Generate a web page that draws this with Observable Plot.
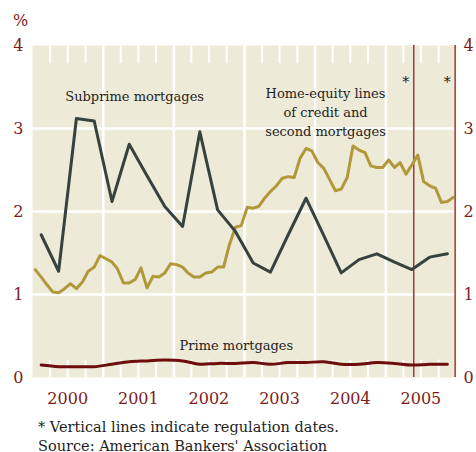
<!DOCTYPE html>
<html>
<head>
<meta charset="utf-8">
<script src="https://cdn.jsdelivr.net/npm/d3@7"></script>
<script src="https://cdn.jsdelivr.net/npm/@observablehq/plot@0.6"></script>
<style>
  html, body { margin: 0; padding: 0; background: #fff; }
  #chart svg { display: block; }
  .cap { font-family: "DejaVu Serif", serif; font-size: 14.5px; line-height: 19px; color: #1e1e1e; padding-left: 38px; padding-top: 6px; white-space: nowrap; }
</style>
</head>
<body>
<div id="chart"></div>
<div class="cap">* Vertical lines indicate regulation dates.<br>Source: American Bankers' Association</div>
<script>
// ---- data ----
const quarterDates = ["2000-02-15","2000-05-15","2000-08-15","2000-11-15",
  "2001-02-15","2001-05-15","2001-08-15","2001-11-15",
  "2002-02-15","2002-05-15","2002-08-15","2002-11-15",
  "2003-02-15","2003-05-15","2003-08-15","2003-11-15",
  "2004-02-15","2004-05-15","2004-08-15","2004-11-15",
  "2005-02-15","2005-05-15","2005-08-15","2005-11-15"];
const subprime = [1.72,1.28,3.12,3.09,2.12,2.81,2.43,2.06,1.82,2.96,2.02,1.76,
  1.38,1.27,1.72,2.16,1.71,1.26,1.42,1.49,1.39,1.30,1.45,1.49];
const prime = [0.15,0.13,0.13,0.13,0.16,0.19,0.20,0.21,0.20,0.16,0.17,0.17,
  0.18,0.16,0.18,0.18,0.19,0.16,0.16,0.18,0.17,0.15,0.16,0.16];
const homeEquityStart = "2000-01-15";
const homeEquity = [1.30,1.21,1.12,1.03,1.02,1.07,1.13,1.07,1.15,1.28,1.33,1.47,
  1.43,1.39,1.31,1.14,1.14,1.18,1.32,1.08,1.22,1.21,1.26,1.37,
  1.36,1.33,1.26,1.21,1.21,1.26,1.27,1.33,1.33,1.60,1.81,1.83,
  2.05,2.04,2.06,2.16,2.24,2.31,2.40,2.42,2.41,2.64,2.76,2.73,
  2.59,2.52,2.39,2.25,2.27,2.41,2.79,2.74,2.71,2.55,2.53,2.53,
  2.62,2.53,2.59,2.45,2.56,2.68,2.36,2.31,2.28,2.11,2.12,2.17];
const regulationDates = ["2005-05-25","2005-12-25"];
const yearTicks = ["2000-07-01","2001-07-01","2002-07-01","2003-07-01","2004-07-01","2005-07-01"];
const yearBounds = ["2001-01-01","2002-01-01","2003-01-01","2004-01-01","2005-01-01"];
const quarterBounds = ["2000-04-01","2000-07-01","2000-10-01","2001-04-01","2001-07-01","2001-10-01",
  "2002-04-01","2002-07-01","2002-10-01","2003-04-01","2003-07-01","2003-10-01",
  "2004-04-01","2004-07-01","2004-10-01","2005-04-01","2005-07-01","2005-10-01"];
const yTicks = [0,1,2,3,4];
const labels = [
  {date: "2001-06-12", value: 3.40, text: "Subprime mortgages"},
  {date: "2004-02-24", value: 3.21, text: "Home-equity lines\nof credit and\nsecond mortgages"},
  {date: "2002-11-20", value: 0.41, text: "Prime mortgages"}
];

// ---- build ----
const P = d3.utcParse("%Y-%m-%d");
const sub = quarterDates.map((d, i) => ({date: P(d), value: subprime[i]}));
const pri = quarterDates.map((d, i) => ({date: P(d), value: prime[i]}));
const he = homeEquity.map((v, i) => ({date: d3.utcMonth.offset(P(homeEquityStart), i), value: v}));
const regs = regulationDates.map(P);
const lab = labels.map(d => ({...d, date: P(d.date)}));

const RED = "#7c1b1b";
const BG = "#eeead8";
const FONT = "DejaVu Serif, serif";

const chart = Plot.plot({
  width: 476,
  height: 412,
  marginLeft: 32,
  marginRight: 20,
  marginTop: 45,
  marginBottom: 35,
  style: {fontFamily: FONT, color: RED, background: "white"},
  x: {type: "utc", domain: [P("2000-01-01"), P("2006-01-01")]},
  y: {domain: [0, 4]},
  marks: [
    Plot.frame({fill: BG, stroke: null}),
    Plot.ruleY([1, 2, 3], {stroke: "white", strokeWidth: 2.5}),
    Plot.ruleX(yearBounds.map(P), {stroke: "white", strokeWidth: 2.5}),
    Plot.ruleX(quarterBounds.map(P), {y1: 4, y2: 3.78, stroke: "white", strokeWidth: 2}),
    Plot.ruleX(quarterBounds.map(P), {y1: 0, y2: 0.21, stroke: "white", strokeWidth: 2}),
    Plot.ruleX(regs, {y1: 0, y2: 4, stroke: "#9a3c3c", strokeWidth: 1.5}),
    Plot.text(regs, {x: d => d, y: 3.55, text: () => "*", dx: -8, fontSize: 14, fill: "#222"}),
    Plot.line(he, {x: "date", y: "value", stroke: "#b1983a", strokeWidth: 3}),
    Plot.line(sub, {x: "date", y: "value", stroke: "#36423e", strokeWidth: 3}),
    Plot.line(pri, {x: "date", y: "value", stroke: "#6e0d0d", strokeWidth: 3, curve: "catmull-rom"}),
    Plot.text(lab, {x: "date", y: "value", text: "text", fontSize: 13, lineHeight: 1.45, fill: "#1e1e1e"}),
    Plot.axisY({anchor: "left", ticks: yTicks, tickFormat: "d", tickSize: 0, tickPadding: 9, fontSize: 16, label: null}),
    Plot.axisY({anchor: "right", ticks: yTicks, tickFormat: "d", tickSize: 0, tickPadding: 7, fontSize: 16, label: null}),
    Plot.axisX({ticks: yearTicks.map(P), tickFormat: d3.utcFormat("%Y"), tickSize: 0, tickPadding: 15, fontSize: 16, label: null}),
    Plot.text(["%"], {frameAnchor: "top-left", dx: -12, dy: -25, textAnchor: "middle", lineAnchor: "middle", fontSize: 16, fill: RED})
  ]
});
document.getElementById("chart").appendChild(chart);
</script>
</body>
</html>
